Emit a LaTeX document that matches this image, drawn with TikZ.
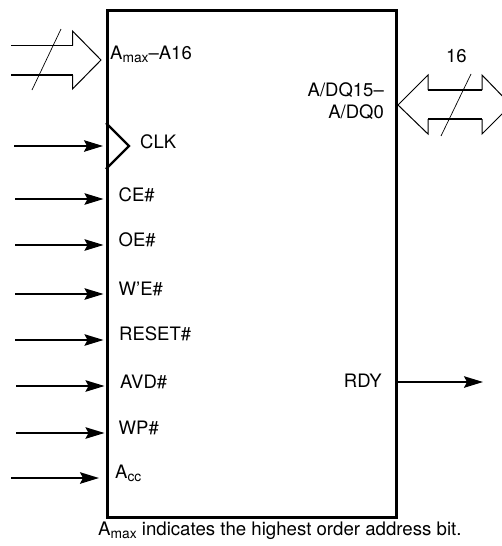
\documentclass[tikz,border=0pt]{standalone}
\usepackage{fontspec}
\setmainfont{TeX Gyre Heros}
\usetikzlibrary{arrows.meta}
\newcommand{\lowsub}[1]{\raisebox{-3.2pt}{\fontsize{13.8}{15}\selectfont #1}}
\tikzset{
  chip/.style={line width=3pt,draw=black,line join=miter},
  sig/.style={line width=1.7pt,-{Stealth[length=19pt,width=11.5pt,inset=3pt]}},
  bus/.style={line width=1.7pt},
  thin outline/.style={line width=1pt,line join=miter},
  lbl/.style={inner sep=0pt,anchor=base west,font=\fontsize{18.5}{20}\selectfont},
  lblr/.style={inner sep=0pt,anchor=base east,font=\fontsize{18.5}{20}\selectfont}
}
\begin{document}
\begin{tikzpicture}[x=1pt,y=-1pt]
\useasboundingbox (0,0) rectangle (502,546);
\node[chip,minimum width=289pt,minimum height=507pt,inner sep=0pt,anchor=north west] (ic) at (106,9) {};
% address bus
\coordinate (a1) at (11,45.5); \coordinate (a2) at (72.5,45.5);
\coordinate (a3) at (72.5,31); \coordinate (a4) at (101,60);
\coordinate (a5) at (72.5,89); \coordinate (a6) at (72.5,75); \coordinate (a7) at (11,75);
\draw[bus] (a1) -- (a2);
\draw[bus] (a7) -- (a6);
\draw[thin outline] (a2) -- (a3) -- (a4) -- (a5) -- (a6);
\coordinate (s1) at (61,29); \coordinate (s2) at (32,90);
\draw[line width=0.7pt] (s1) -- (s2);
% data bus
\begin{scope}
\clip (0,0) rectangle (502,546);
\coordinate (d1) at (428,90); \coordinate (d2) at (428,75); \coordinate (d3) at (398,105);
\coordinate (d4) at (428,134); \coordinate (d5) at (428,119);
\coordinate (d6) at (482,119); \coordinate (d7) at (482,134); \coordinate (d8) at (511,105);
\coordinate (d9) at (482,75); \coordinate (d10) at (482,90);
\draw[bus] (d1) -- (d10);
\draw[bus] (d5) -- (d6);
\draw[thin outline] (d1) -- (d2) -- (d3) -- (d4) -- (d5);
\draw[thin outline] (d6) -- (d7) -- (d8) -- (d9) -- (d10);
\end{scope}
\coordinate (t1) at (471,74); \coordinate (t2) at (441,136);
\draw[line width=0.7pt] (t1) -- (t2);
\node[lbl] (n16) at (446,62) {16};
% clock
\coordinate (c1) at (106,123); \coordinate (c2) at (129,146); \coordinate (c3) at (106,169);
\draw[line width=2.2pt] (c1) -- (c2) -- (c3);
% pin labels
\node[lbl] (l0) at (110,59) {A\lowsub{max}–A16};
\node[lbl] (lclk) at (140,148) {CLK};
\node[lbl] (lce) at (118.5,201) {CE\#};
\node[lbl] (loe) at (118.5,246) {OE\#};
\node[lbl] (lwe) at (118.5,295) {W’E\#};
\node[lbl] (lrs) at (119,340) {RESET\#};
\node[lbl] (lav) at (120,388) {AVD\#};
\node[lbl] (lwp) at (118.5,434) {WP\#};
\node[lbl] (lac) at (115,478) {A\lowsub{cc}};
\node[lblr] (ldq1) at (384,96) {A/DQ15–};
\node[lblr] (ldq2) at (384,118) {A/DQ0};
\node[lblr] (lrdy) at (382,387) {RDY};
\node[inner sep=0pt,anchor=base west,font=\fontsize{18.65}{20}\selectfont] (cap) at (98,535) {A\lowsub{max} indicates the highest order address bit.};
% inputs
\coordinate (i0) at (14,146); \coordinate (e0) at (103,146);
\coordinate (i1) at (15,199); \coordinate (e1) at (103.5,199);
\coordinate (i2) at (15,245); \coordinate (e2) at (103.5,245);
\coordinate (i3) at (15,294); \coordinate (e3) at (103.5,294);
\coordinate (i4) at (15,340); \coordinate (e4) at (103.5,340);
\coordinate (i5) at (16,386); \coordinate (e5) at (104.5,386);
\coordinate (i6) at (16,433); \coordinate (e6) at (104.5,433);
\coordinate (i7) at (11,478); \coordinate (e7) at (99,478);
\foreach \k in {0,...,7} {\draw[sig] (i\k) -- (e\k);}
\coordinate (o1) at (397,382); \coordinate (o2) at (483,382);
\draw[sig] (o1) -- (o2);
\end{tikzpicture}
\end{document}
